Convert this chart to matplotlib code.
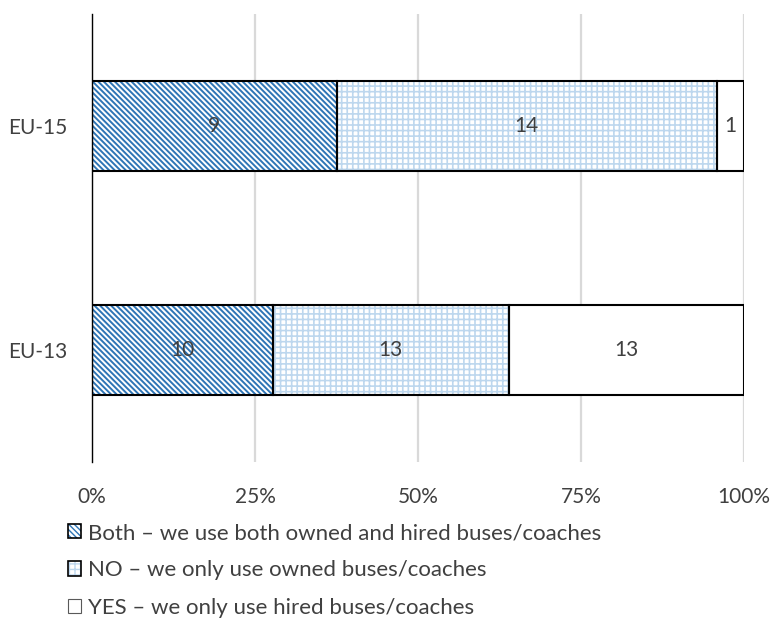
import matplotlib
matplotlib.use("Agg")
import matplotlib.pyplot as plt
from matplotlib.patches import Patch
from matplotlib.legend_handler import HandlerTuple
import numpy as np

plt.rcParams['font.family'] = ['Lato', 'DejaVu Sans']

# Survey responses per region (number of respondents)
regions = ["EU-15", "EU-13"]
both_counts = [9, 10]
no_counts = [14, 13]
yes_counts = [1, 13]
series_labels = [
    "Both \u2013 we use both owned and hired buses/coaches",
    "NO \u2013 we only use owned buses/coaches",
    "YES \u2013 we only use hired buses/coaches",
]
tick_values = [0, 25, 50, 75, 100]
tick_labels = ["0%", "25%", "50%", "75%", "100%"]

text_color = "#404040"
diag_color = "#2E75B6"
grid_color = "#BDD7EE"

counts = np.array([both_counts, no_counts, yes_counts], dtype=float)
totals = counts.sum(axis=0)
shares = counts / totals * 100

fig = plt.figure(figsize=(7.72, 6.21), dpi=100)
ax = fig.add_axes([92 / 772, 159 / 621, 652 / 772, 448 / 621])

ypos = np.arange(len(regions))[::-1]
bar_h = 0.4

styles = [
    dict(hatch="\\" * 6, color=diag_color, lw=1.4),
    dict(hatch="+++", color=grid_color, lw=1.2),
    dict(hatch=None, color="white", lw=1.0),
]

handles = []
left = np.zeros(len(regions))
for i, st in enumerate(styles):
    with plt.rc_context({"hatch.linewidth": st["lw"]}):
        ax.barh(ypos, shares[i], left=left, height=bar_h, facecolor="white",
                edgecolor=st["color"], hatch=st["hatch"], linewidth=0, zorder=2)
        fill = Patch(facecolor="white", edgecolor=st["color"], hatch=st["hatch"], linewidth=0)
    ax.barh(ypos, shares[i], left=left, height=bar_h, facecolor="none",
            edgecolor="black", linewidth=1.5, zorder=3)
    outline = Patch(facecolor="none", edgecolor="black" if i < 2 else "#595959",
                    linewidth=1.2 if i < 2 else 0.8)
    handles.append((fill, outline))
    for y, l, w, c in zip(ypos, left, shares[i], counts[i]):
        ax.text(l + w / 2, y, f"{int(c)}", ha="center", va="center",
                fontsize=15, color=text_color, zorder=4)
    left += shares[i]

ax.set_xlim(0, 100)
ax.set_ylim(-0.5, 1.5)
ax.set_xticks(tick_values)
ax.set_xticklabels(tick_labels)
ax.set_yticks(ypos)
ax.set_yticklabels(regions)
ax.tick_params(axis="both", length=0, labelsize=15, labelcolor=text_color)
ax.tick_params(axis="x", pad=18)
ax.tick_params(axis="y", pad=18)
ax.xaxis.grid(True, color="#D9D9D9", linewidth=1.6, zorder=0)
ax.set_axisbelow(True)
for s in ["top", "right", "bottom"]:
    ax.spines[s].set_visible(False)
ax.spines["left"].set_color("black")
ax.spines["left"].set_linewidth(1.0)
ax.spines["left"].set_zorder(5)

leg = fig.legend(handles, series_labels, loc="upper left",
                 bbox_to_anchor=(68 / 772, 1 - 523 / 621),
                 frameon=False, fontsize=16, labelcolor=text_color,
                 handler_map={tuple: HandlerTuple(ndivide=1, pad=0)},
                 handlelength=0.6, handleheight=0.6, handletextpad=0.3,
                 labelspacing=0.78, borderaxespad=0, borderpad=0)

fig.savefig("out.png", dpi=100)
